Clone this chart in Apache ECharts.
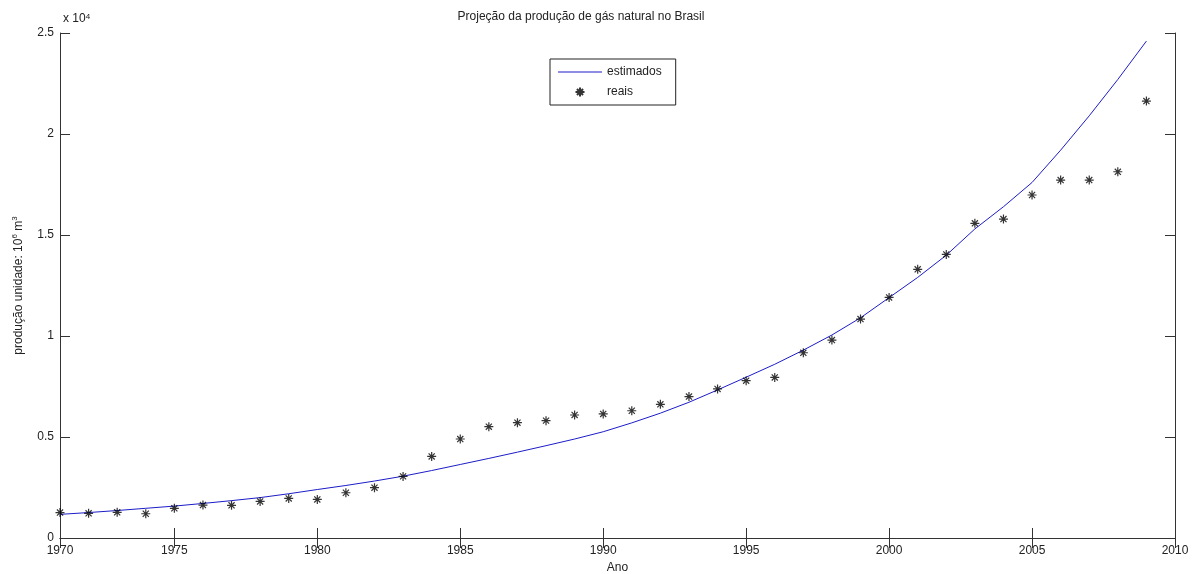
<!DOCTYPE html>
<html>
<head>
<meta charset="utf-8">
<script src="https://cdn.jsdelivr.net/npm/echarts@6/dist/echarts.min.js"></script>
<style>
  html, body { margin: 0; padding: 0; background: #fff; }
  #chart { width: 1202px; height: 574px; }
</style>
</head>
<body>
<div id="chart"></div>
<script>
// anos (1971 a 2009)
const years = [1971, 1972, 1973, 1974, 1975, 1976, 1977, 1978, 1979, 1980,
  1981, 1982, 1983, 1984, 1985, 1986, 1987, 1988, 1989, 1990,
  1991, 1992, 1993, 1994, 1995, 1996, 1997, 1998, 1999, 2000,
  2001, 2002, 2003, 2004, 2005, 2006, 2007, 2008, 2009]
// producao real (10^6 m^3)
const reais = [1260, 1220, 1270, 1200, 1470, 1630, 1620, 1810, 1960, 1910,
  2240, 2490, 3050, 4040, 4900, 5510, 5710, 5810, 6090, 6140,
  6300, 6620, 7000, 7380, 7790, 7950, 9170, 9800, 10840, 11910,
  13300, 14040, 15580, 15790, 16980, 17720, 17720, 18130, 21630]
// curva estimada
const estimados = [1170, 1260, 1360, 1470, 1580, 1710, 1850, 2000, 2190, 2400,
  2600, 2820, 3060, 3340, 3640, 3940, 4250, 4570, 4900, 5260,
  5700, 6180, 6720, 7330, 7960, 8600, 9300, 10050, 10900, 11900,
  12900, 14000, 15300, 16400, 17600, 19200, 20900, 22700, 24600]
const xTickValues = [1971, 1975, 1980, 1985, 1990, 1995, 2000, 2005, 2010]
const xTickLabels = ['1970', '1975', '1980', '1985', '1990', '1995', '2000', '2005', '2010']

const font = 'Liberation Sans, Arial, sans-serif'
const axisColor = '#333'
const lineColor = '#1c1cc8'
const starPath = 'path://M0,5L10,5M5,0L5,10M1.6,1.6L8.4,8.4M8.4,1.6L1.6,8.4'
const linePath = 'path://M0,0L44,0L44,1L0,1Z'

const chart = echarts.init(document.getElementById('chart'))
chart.setOption({
  animation: false,
  textStyle: { fontFamily: font },
  title: [
    {
      text: 'Projeção da produção de gás natural no Brasil',
      left: 576,
      top: 6,
      textAlign: 'center',
      textStyle: { fontSize: 12, fontWeight: 'normal', color: '#222', fontFamily: font }
    },
    {
      text: 'x 10{sup|4}',
      left: 58,
      top: 8,
      textStyle: {
        fontSize: 12, fontWeight: 'normal', color: '#222', fontFamily: font,
        rich: {
          sup: { fontSize: 8, lineHeight: 8, verticalAlign: 'top', color: '#222' }
        }
      }
    }
  ],
  legend: {
    left: 550,
    top: 59,
    orient: 'vertical',
    backgroundColor: '#fff',
    borderColor: '#222',
    borderWidth: 1,
    borderRadius: 0,
    padding: [7, 14, 7, 8],
    itemGap: 8,
    itemWidth: 44,
    itemHeight: 9,
    textStyle: { fontSize: 12, color: '#222', fontFamily: font },
    data: [
      { name: 'estimados', icon: linePath },
      { name: 'reais' }
    ]
  },
  grid: {
    left: 60,
    right: 27,
    top: 33,
    bottom: 36,
    outerBoundsMode: 'none'
  },
  xAxis: [
    {
      type: 'value',
      min: 1971,
      max: 2010,
      name: 'Ano',
      nameLocation: 'middle',
      nameGap: 23,
      nameTextStyle: { fontSize: 12, color: '#222' },
      axisLine: { lineStyle: { color: axisColor } },
      axisTick: { inside: true, length: 10, customValues: xTickValues, lineStyle: { color: axisColor } },
      axisLabel: {
        customValues: xTickValues,
        color: '#222',
        fontSize: 12,
        margin: 7,
        formatter: v => xTickLabels[xTickValues.indexOf(v)]
      },
      splitLine: { show: false }
    },
    {
      type: 'value',
      position: 'top',
      min: 1971,
      max: 2010,
      axisLine: { lineStyle: { color: axisColor } },
      axisTick: { inside: true, length: 10, customValues: xTickValues, lineStyle: { color: axisColor } },
      axisLabel: { show: false },
      splitLine: { show: false }
    }
  ],
  yAxis: [
    {
      type: 'value',
      min: 0,
      max: 25000,
      interval: 5000,
      name: 'produção unidade: 10{sup|6} m{sup|3}',
      nameLocation: 'middle',
      nameGap: 31,
      nameTextStyle: {
        fontSize: 12, color: '#222', lineHeight: 16,
        rich: {
          sup: { fontSize: 8, lineHeight: 8, verticalAlign: 'top', color: '#222' }
        }
      },
      axisLine: { show: true, lineStyle: { color: axisColor } },
      axisTick: { show: true, inside: true, length: 10, lineStyle: { color: axisColor } },
      axisLabel: {
        color: '#222',
        fontSize: 12,
        margin: 6,
        formatter: v => String(v / 10000)
      },
      splitLine: { show: false }
    },
    {
      type: 'value',
      position: 'right',
      min: 0,
      max: 25000,
      interval: 5000,
      axisLine: { show: true, lineStyle: { color: axisColor } },
      axisTick: { show: true, inside: true, length: 10, lineStyle: { color: axisColor } },
      axisLabel: { show: false },
      splitLine: { show: false }
    }
  ],
  series: [
    {
      name: 'estimados',
      type: 'line',
      data: years.map((y, i) => [y, estimados[i]]),
      showSymbol: false,
      symbol: 'none',
      symbolKeepAspect: true,
      lineStyle: { color: lineColor, width: 1 },
      itemStyle: { color: lineColor },
      z: 2
    },
    {
      name: 'reais',
      type: 'scatter',
      data: years.map((y, i) => [y, reais[i]]),
      symbol: starPath,
      symbolSize: 9,
      symbolKeepAspect: true,
      itemStyle: { color: '#000', borderColor: '#000', borderWidth: 1.2 },
      z: 3
    }
  ]
})
</script>
</body>
</html>
